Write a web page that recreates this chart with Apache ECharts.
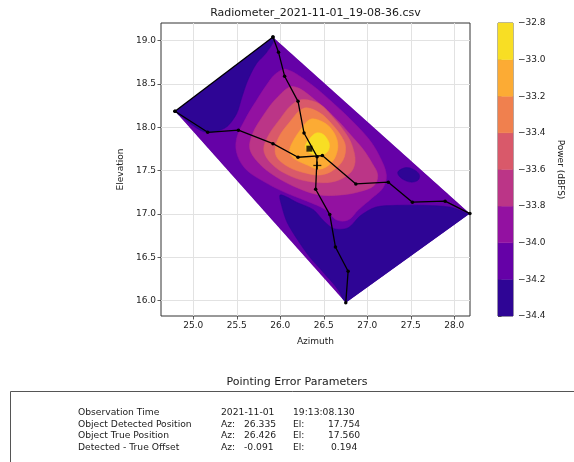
<!DOCTYPE html>
<html><head><meta charset="utf-8">
<script src="https://cdn.jsdelivr.net/npm/echarts@6/dist/echarts.min.js"></script>
<style>html,body{margin:0;padding:0;background:#fff}#c{width:574px;height:462px}</style>
</head><body><div id="c"></div>
<script>
const chartTitle = 'Radiometer_2021-11-01_19-08-36.csv';
const xTicks = [25.0, 25.5, 26.0, 26.5, 27.0, 27.5, 28.0];
const yTicks = [16.0, 16.5, 17.0, 17.5, 18.0, 18.5, 19.0];
const cbTicks = [-34.4, -34.2, -34.0, -33.8, -33.6, -33.4, -33.2, -33.0, -32.8];
const bandColors = ['#2e0595', '#6501a7', '#9311a1', '#bb3587', '#d9596a', '#f0804e', '#fcab34', '#f8de24'];

// scan paths (azimuth, elevation)
const path1Az = [25.916, 25.98, 26.05, 26.204, 26.273, 26.423, 26.407, 26.569, 26.634, 26.78, 26.753];
const path1El = [19.043, 18.866, 18.59, 18.30, 17.935, 17.662, 17.286, 16.993, 16.62, 16.34, 15.975];
const path2Az = [24.79, 25.166, 25.519, 25.916, 26.204, 26.484, 26.869, 27.242, 27.519, 27.895, 28.18];
const path2El = [18.186, 17.943, 17.967, 17.812, 17.655, 17.674, 17.347, 17.367, 17.136, 17.148, 17.005];
const edgeAz = [24.79, 25.916];
const edgeEl = [18.186, 19.043];
// scanned area outline (left, top, right, bottom) -> -34.2..-34.0 background band
const hullAz = [24.79, 25.916, 28.18, 26.753];
const hullEl = [18.186, 19.043, 17.005, 15.975];

// contour outlines (az, el)
// below -34.2 dBFS: upper-left strip, lower area, small patch on the right
const low1Az = [24.5, 25.9, 25.935, 25.84, 25.73, 25.63, 25.56, 25.5, 25.39, 25.25, 25.12, 24.98, 24.82, 24.5];
const low1El = [18.2, 19.3, 19.03, 18.86, 18.74, 18.55, 18.35, 18.16, 18.01, 17.95, 17.95, 18.03, 18.14, 18.0];
const low2Az = [26.0, 26.2, 26.38, 26.5, 26.62, 26.78, 26.92, 27.1, 27.35, 27.65, 27.95, 28.12, 28.6, 27.0, 26.68, 26.5, 26.34, 26.2, 26.08, 26.02];
const low2El = [17.22, 17.13, 17.05, 16.92, 16.83, 16.84, 16.98, 17.08, 17.1, 17.1, 17.08, 17.02, 16.8, 15.4, 16.1, 16.32, 16.5, 16.7, 16.9, 17.08];
const low3Az = [27.35, 27.42, 27.52, 27.6, 27.57, 27.45];
const low3El = [17.47, 17.53, 17.52, 17.45, 17.38, 17.38];
// above -34.0
const c340Az = [26.07, 26.35, 26.62, 26.85, 27.03, 27.15, 27.22, 27.18, 27.05, 26.9, 26.78, 26.65, 26.52, 26.3, 26.05, 25.8, 25.6, 25.5, 25.5, 25.6, 25.72, 25.85, 25.95];
const c340El = [18.67, 18.5, 18.27, 18.05, 17.85, 17.65, 17.45, 17.3, 17.18, 17.05, 16.93, 16.93, 17.05, 17.15, 17.25, 17.38, 17.52, 17.7, 17.88, 18.1, 18.3, 18.5, 18.62];
// above -33.8
const c338Az = [26.15, 26.42, 26.66, 26.82, 26.95, 27.06, 27.12, 27.08, 26.92, 26.7, 26.45, 26.2, 25.95, 25.76, 25.65, 25.68, 25.8, 25.97];
const c338El = [18.47, 18.3, 18.08, 17.9, 17.75, 17.58, 17.45, 17.33, 17.26, 17.22, 17.22, 17.3, 17.43, 17.58, 17.75, 17.92, 18.13, 18.35];
// above -33.6
const c336Az = [26.25, 26.45, 26.62, 26.76, 26.83, 26.86, 26.8, 26.6, 26.3, 26.05, 25.88, 25.81, 25.86, 26.0, 26.12];
const c336El = [18.32, 18.27, 18.1, 17.92, 17.78, 17.6, 17.47, 17.37, 17.38, 17.47, 17.6, 17.74, 17.9, 18.1, 18.25];
// above -33.4
const c334Az = [26.27, 26.45, 26.6, 26.7, 26.75, 26.72, 26.6, 26.46, 26.3, 26.12, 25.98, 25.94, 25.98, 26.1];
const c334El = [18.22, 18.17, 18.03, 17.9, 17.78, 17.62, 17.5, 17.45, 17.47, 17.53, 17.63, 17.73, 17.88, 18.05];
// above -33.2
const c332Az = [26.346, 26.481, 26.596, 26.661, 26.634, 26.546, 26.442, 26.308, 26.153, 26.107, 26.135, 26.231];
const c332El = [18.093, 18.066, 17.97, 17.817, 17.662, 17.555, 17.517, 17.566, 17.643, 17.72, 17.817, 17.97];
// above -33.0
const c330Az = [26.405, 26.327, 26.288, 26.338, 26.442, 26.539, 26.565, 26.53, 26.47];
const c330El = [17.932, 17.855, 17.777, 17.708, 17.674, 17.713, 17.797, 17.881, 17.932];

const detectedPos = [26.335, 17.754];
const truePos = [26.426, 17.560];

const tableTitle = 'Pointing Error Parameters';
const tableLabels = ['Observation Time', 'Object Detected Position', 'Object True Position', 'Detected - True Offset'];
const tableCol2 = ['2021-11-01', 'Az:', 'Az:', 'Az:'];
const tableAz = ['', '26.335', '26.426', '-0.091'];
const tableCol3 = ['19:13:08.130', 'El:', 'El:', 'El:'];
const tableEl = ['', '17.754', '17.560', '0.194'];

const FONT = 'DejaVu Sans';
// painter's order: background band first, then lower and higher bands
const regions = [
  {band: 1, az: hullAz, el: hullEl, smooth: 0},
  {band: 0, az: low1Az, el: low1El, smooth: 0.3},
  {band: 0, az: low2Az, el: low2El, smooth: 0.3},
  {band: 0, az: low3Az, el: low3El, smooth: 0.4},
  {band: 2, az: c340Az, el: c340El, smooth: 0.35},
  {band: 3, az: c338Az, el: c338El, smooth: 0.35},
  {band: 4, az: c336Az, el: c336El, smooth: 0.35},
  {band: 5, az: c334Az, el: c334El, smooth: 0.35},
  {band: 6, az: c332Az, el: c332El, smooth: 0.35},
  {band: 7, az: c330Az, el: c330El, smooth: 0.35}
];

const zip = (a, b) => a.map((v, i) => [v, b[i]]);
const fmt1 = v => v.toFixed(1).replace('-', '\u2212');

const chart = echarts.init(document.getElementById('c'), null, {renderer: 'canvas'});
const graphics = [
  {type: 'text', x: 315.5, y: 13, style: {text: chartTitle, font: '11px "' + FONT + '"', fill: '#1a1a1a', align: 'center', verticalAlign: 'middle'}},
  {type: 'text', x: 297, y: 382, style: {text: tableTitle, font: '11px "' + FONT + '"', fill: '#1a1a1a', align: 'center', verticalAlign: 'middle'}},
  {type: 'rect', shape: {x: 10.5, y: 391.5, width: 620, height: 120}, style: {fill: 'none', stroke: '#555', lineWidth: 1}}
];
const rowY = [413, 424.5, 436, 447.5];
const elX = [293, 328, 328, 331];
tableLabels.forEach((t, i) => {
  const f = '9.2px "' + FONT + '"';
  graphics.push({type: 'text', x: 78, y: rowY[i], style: {text: t, font: f, fill: '#222', verticalAlign: 'middle'}});
  graphics.push({type: 'text', x: 221, y: rowY[i], style: {text: tableCol2[i], font: f, fill: '#222', verticalAlign: 'middle'}});
  if (tableAz[i]) graphics.push({type: 'text', x: 244, y: rowY[i], style: {text: tableAz[i], font: f, fill: '#222', verticalAlign: 'middle'}});
  graphics.push({type: 'text', x: 293, y: rowY[i], style: {text: tableCol3[i], font: f, fill: '#222', verticalAlign: 'middle'}});
  if (tableEl[i]) graphics.push({type: 'text', x: elX[i], y: rowY[i], style: {text: tableEl[i], font: f, fill: '#222', verticalAlign: 'middle'}});
});

const axisTxt = {fontFamily: FONT, fontSize: 9, color: '#222'};
const option = {
  animation: false,
  backgroundColor: '#fff',
  graphic: graphics,
  grid: [
    {left: 161, top: 23, width: 309, height: 293, show: true, borderColor: '#333', borderWidth: 1, backgroundColor: 'transparent', containLabel: false, outerBoundsMode: 'none'},
    {left: 498, top: 23, width: 15, height: 293, show: true, borderColor: '#333', borderWidth: 0.8, backgroundColor: 'transparent', containLabel: false, outerBoundsMode: 'none'}
  ],
  xAxis: [
    {gridIndex: 0, type: 'value', min: 24.629, max: 28.181, minInterval: 0.5, maxInterval: 0.5,
     name: 'Azimuth', nameLocation: 'middle', nameGap: 21, nameTextStyle: axisTxt,
     axisLine: {show: false},
     axisTick: {show: true, length: 3.5, customValues: xTicks, lineStyle: {color: '#333', width: 0.8}},
     axisLabel: Object.assign({margin: 5, customValues: xTicks, formatter: fmt1}, axisTxt),
     splitLine: {show: true, lineStyle: {color: '#e2e2e2', width: 1}}},
    {gridIndex: 1, type: 'value', min: 0, max: 1, show: false}
  ],
  yAxis: [
    {gridIndex: 0, type: 'value', min: 15.823, max: 19.204, minInterval: 0.5, maxInterval: 0.5,
     name: 'Elevation', nameLocation: 'middle', nameGap: 28, nameTextStyle: axisTxt,
     axisLine: {show: false},
     axisTick: {show: true, length: 3.5, customValues: yTicks, lineStyle: {color: '#333', width: 0.8}},
     axisLabel: Object.assign({margin: 5, customValues: yTicks, formatter: fmt1}, axisTxt),
     splitLine: {show: true, lineStyle: {color: '#e2e2e2', width: 1}}},
    {gridIndex: 1, type: 'value', position: 'right', min: -34.4, max: -32.8, interval: 0.2,
     name: 'Power (dBFS)', nameLocation: 'middle', nameGap: 43, nameRotate: -90, nameTextStyle: axisTxt,
     axisLine: {show: false},
     axisTick: {show: true, length: 3.5, customValues: cbTicks, lineStyle: {color: '#333', width: 0.8}},
     axisLabel: Object.assign({margin: 5, customValues: cbTicks, formatter: fmt1}, axisTxt),
     splitLine: {show: false}}
  ],
  series: [
    {type: 'custom', xAxisIndex: 0, yAxisIndex: 0, z: 1, clip: false,
     data: regions.map((r, i) => [i, r.band]),
     renderItem: (params, api) => {
       const r = regions[params.dataIndex];
       const pts = r.az.map((a, i) => api.coord([a, r.el[i]]));
       const hull = hullAz.map((a, i) => api.coord([a, hullEl[i]]));
       const col = bandColors[r.band];
       return {type: 'polygon', shape: {points: pts, smooth: r.smooth},
               clipPath: {type: 'polygon', shape: {points: hull}},
               style: {fill: col, stroke: col, lineWidth: 0.5}};
     }},
    {type: 'custom', xAxisIndex: 1, yAxisIndex: 1, z: 1,
     data: bandColors.map((c, i) => [cbTicks[i], cbTicks[i + 1], i]),
     renderItem: (params, api) => {
       const p1 = api.coord([0, api.value(1)]);
       const p2 = api.coord([1, api.value(0)]);
       const col = bandColors[api.value(2)];
       return {type: 'rect', shape: {x: p1[0], y: p1[1], width: p2[0] - p1[0], height: p2[1] - p1[1]}, style: {fill: col, stroke: col, lineWidth: 0.4}};
     }},
    {type: 'line', xAxisIndex: 0, yAxisIndex: 0, z: 3, data: zip(edgeAz, edgeEl), symbol: 'circle', symbolSize: 3.5,
     lineStyle: {color: '#000', width: 1.3}, itemStyle: {color: '#000'}},
    {type: 'line', xAxisIndex: 0, yAxisIndex: 0, z: 3, data: zip(path1Az, path1El), symbol: 'circle', symbolSize: 3.5,
     lineStyle: {color: '#000', width: 1.3}, itemStyle: {color: '#000'}},
    {type: 'line', xAxisIndex: 0, yAxisIndex: 0, z: 3, data: zip(path2Az, path2El), symbol: 'circle', symbolSize: 3.5,
     lineStyle: {color: '#000', width: 1.3}, itemStyle: {color: '#000'}},
    {type: 'scatter', xAxisIndex: 0, yAxisIndex: 0, z: 4, data: [detectedPos], symbol: 'rect', symbolSize: 6, itemStyle: {color: '#000'}},
    {type: 'scatter', xAxisIndex: 0, yAxisIndex: 0, z: 4, data: [truePos], symbol: 'rect', symbolSize: [8, 1.3], itemStyle: {color: '#000'}},
    {type: 'scatter', xAxisIndex: 0, yAxisIndex: 0, z: 4, data: [truePos], symbol: 'rect', symbolSize: [1.3, 8], itemStyle: {color: '#000'}}
  ]
};
chart.setOption(option);
</script>
</body></html>
